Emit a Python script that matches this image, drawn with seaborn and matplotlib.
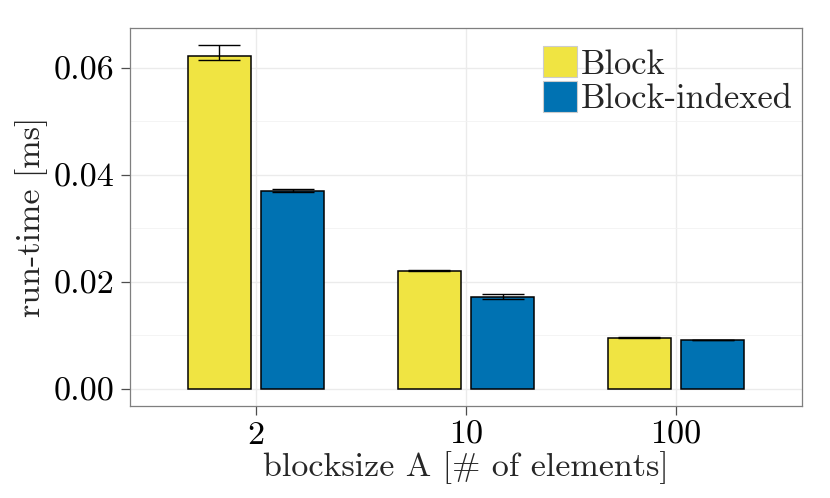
import matplotlib
matplotlib.use('Agg')
import matplotlib.pyplot as plt
import seaborn as sns
import pandas as pd
from matplotlib.ticker import MultipleLocator, FormatStrFormatter
from matplotlib.patches import Patch

blocksizes = ['2', '10', '100']
methods = ['Block', 'Block-indexed']
block_mean = [0.0621, 0.0221, 0.00956]
block_lo = [0.0615, 0.0220, 0.00953]
block_hi = [0.0642, 0.0222, 0.00960]
indexed_mean = [0.0369, 0.0172, 0.00913]
indexed_lo = [0.0367, 0.0168, 0.00910]
indexed_hi = [0.0373, 0.0178, 0.00916]
colors = ['#F0E442', '#0072B2']

df = pd.DataFrame({
    'blocksize': blocksizes * 2,
    'method': [methods[0]] * 3 + [methods[1]] * 3,
    'runtime': block_mean + indexed_mean,
    'lo': block_lo + indexed_lo,
    'hi': block_hi + indexed_hi,
})

sns.set_theme(style='white')
plt.rcParams['font.family'] = ['cmr10', 'DejaVu Serif']
plt.rcParams['axes.unicode_minus'] = False
plt.rcParams['mathtext.fontset'] = 'cm'
plt.rcParams['axes.formatter.use_mathtext'] = True

fig = plt.figure(figsize=(8.3, 4.98), dpi=100)
ax = fig.add_axes([130/830, 1-406/498, (802-130)/830, (406-28)/498])

sns.barplot(data=df, x='blocksize', y='runtime', hue='method',
            order=blocksizes, hue_order=methods, palette=colors, saturation=1,
            width=0.7, gap=1/7, edgecolor='black', linewidth=1.1,
            errorbar=None, legend=False, ax=ax, zorder=2)

bar_containers = list(ax.containers)
for k, cont in enumerate(bar_containers):
    sub = df[df['method'] == methods[k]].set_index('blocksize').loc[blocksizes]
    xs = [b.get_x() + b.get_width() / 2 for b in cont]
    m = sub['runtime'].values
    ax.errorbar(xs, m, yerr=[m - sub['lo'].values, sub['hi'].values - m],
                fmt='none', ecolor='black', elinewidth=1.0, capsize=15,
                capthick=1.0, zorder=3)

ax.set_xlim(-0.6, 2.6)
ax.set_ylim(-0.00321, 0.06741)
ax.yaxis.set_major_locator(MultipleLocator(0.02))
ax.yaxis.set_minor_locator(MultipleLocator(0.01))
ax.yaxis.set_major_formatter(FormatStrFormatter('%.2f'))
ax.grid(True, which='major', color='#EBEBEB', linewidth=1.0, zorder=0)
ax.grid(True, which='minor', axis='y', color='#F2F2F2', linewidth=0.6, zorder=0)
ax.set_axisbelow(True)
for s in ax.spines.values():
    s.set_color('#7F7F7F')
    s.set_linewidth(0.9)
ax.tick_params(axis='both', which='major', length=6.5, width=0.9, color='#4D4D4D',
               labelsize=24.5, labelcolor='black', direction='out',
               bottom=True, left=True)
ax.tick_params(axis='y', which='major', pad=5)
ax.tick_params(axis='x', which='major', pad=4)
ax.tick_params(axis='both', which='minor', length=0)

ax.set_xlabel('blocksize A [# of elements]', fontsize=24.5, labelpad=1)
ax.set_ylabel('run-time [ms]', fontsize=24.5, labelpad=4)

handles = [Patch(facecolor=c, edgecolor='#CCCCCC', linewidth=0.8) for c in colors]
leg = ax.legend(handles, methods, loc='upper left', bbox_to_anchor=(543/830, 1-46/498),
                bbox_transform=fig.transFigure, frameon=False, fontsize=24.8,
                handlelength=0.99, handleheight=1.03, labelspacing=0.0,
                handletextpad=0.12, borderpad=0.0, borderaxespad=0.0)

fig.savefig('out.png', dpi=100)
